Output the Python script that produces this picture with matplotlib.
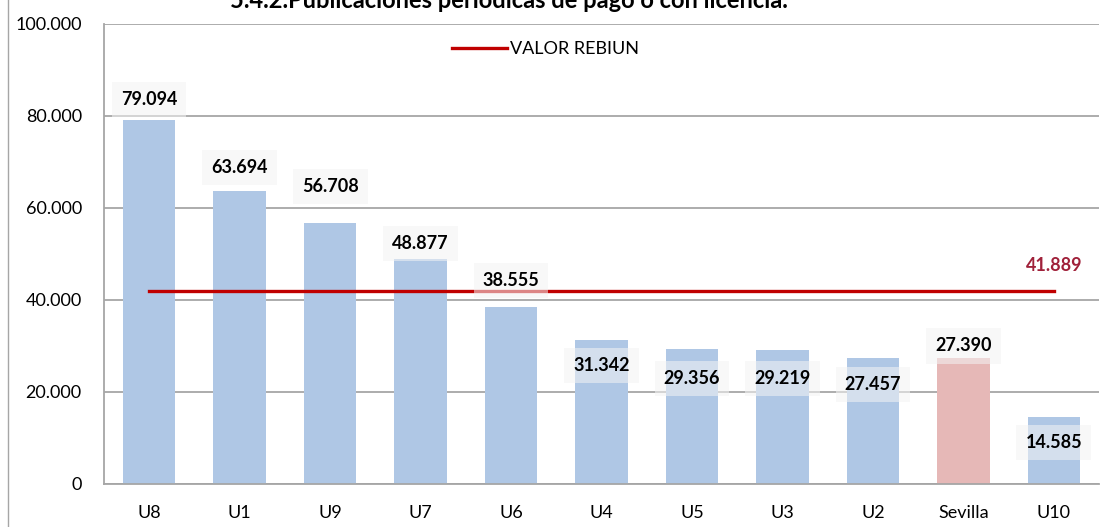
import matplotlib.pyplot as plt

categories = ['U8', 'U1', 'U9', 'U7', 'U6', 'U4', 'U5', 'U3', 'U2', 'Sevilla', 'U10']
values = [79094, 63694, 56708, 48877, 38555, 31342, 29356, 29219, 27457, 27390, 14585]
label_y = [83500, 68700, 64600, 52200, 44300, 25700, 23000, 23000, 21700, 30000, 9100]
rebiun = 41889
title = '5.4.2.Publicaciones periódicas de pago o con licencia.'


def fmt(v):
    return f'{v:,}'.replace(',', '.')


plt.rcParams['font.family'] = ['Lato', 'DejaVu Sans']

fig = plt.figure(figsize=(11.09, 5.27), dpi=100)
ax = fig.add_axes([0.0938, 0.0816, 0.8972, 0.8729])

colors = ['#AFC7E5'] * len(categories)
colors[categories.index('Sevilla')] = '#E6B8B7'
x = range(len(categories))
ax.bar(x, values, width=0.58, color=colors, zorder=2)

ax.plot([0, len(categories) - 1], [rebiun, rebiun], color='#C00000', lw=2.4,
        zorder=3, label='VALOR REBIUN')

for i, (v, ly) in enumerate(zip(values, label_y)):
    ax.text(i, ly, fmt(v), ha='center', va='center', fontsize=13, fontweight='bold',
            zorder=4, bbox=dict(boxstyle='square,pad=0.5', fc='#F4F4F4', ec='none', alpha=0.55))
ax.text(len(categories) - 1, 47600, fmt(rebiun), ha='center', va='center',
        fontsize=13, fontweight='bold', color='#A0213A', zorder=4)

ax.set_xlim(-0.5, len(categories) - 0.5)
ax.set_ylim(0, 100000)
ax.set_yticks(range(0, 100001, 20000))
ax.set_yticklabels([fmt(t) for t in range(0, 100001, 20000)])
ax.set_xticks(list(x))
ax.set_xticklabels(categories)
ax.tick_params(axis='both', length=0, labelsize=13)
ax.tick_params(axis='x', pad=15)
ax.tick_params(axis='y', pad=16)
ax.yaxis.grid(True, color='#A6A6A6', lw=1.3, zorder=0)
ax.set_axisbelow(True)
for s in ['top', 'right']:
    ax.spines[s].set_visible(False)
for s in ['left', 'bottom']:
    ax.spines[s].set_color('#A6A6A6')
    ax.spines[s].set_linewidth(1.3)

ax.legend(loc='center', bbox_to_anchor=(0.444, 0.946), frameon=False, fontsize=13,
          handlelength=3, handletextpad=0.2)

fig.text(0.459, 1 - 8 / 527, title, ha='center', va='baseline', fontsize=17, fontweight='bold')
fig.add_artist(plt.Line2D([0.0068, 0.0068], [0, 1], color='#A6A6A6', lw=1))

fig.savefig('out.png', dpi=100)
